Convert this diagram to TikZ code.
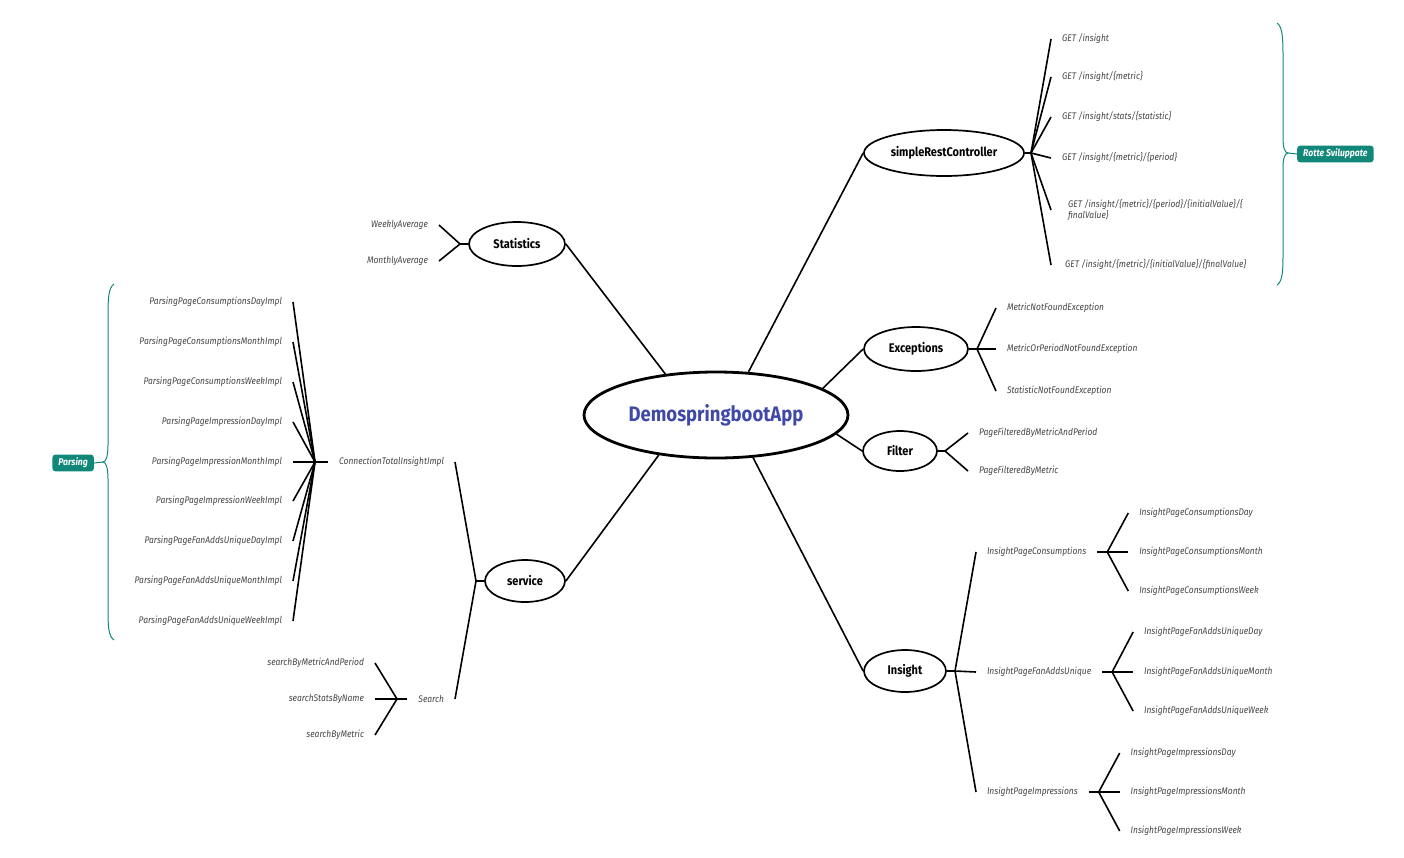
\documentclass[tikz,border=0pt]{standalone}
\usepackage{fontspec}
\setmainfont{Fira Sans}[FakeStretch=0.88]
\usetikzlibrary{shapes.geometric,calc}
\definecolor{tealc}{RGB}{17,135,122}
\definecolor{rootblue}{RGB}{64,72,168}
\definecolor{leafgray}{RGB}{70,70,70}
\tikzset{
  topic/.style={ellipse,draw=black,line width=1.7pt,inner sep=0pt,fill=white,
    font=\bfseries\fontsize{12.5}{14}\selectfont},
  rootnode/.style={ellipse,draw=black,line width=2.8pt,inner sep=0pt,fill=white,
    text=rootblue,font=\bfseries\fontsize{21}{24}\selectfont},
  leaf/.style={inner sep=0pt,outer xsep=11pt,text=leafgray,
    font=\itshape\fontsize{9.6}{11.5}\selectfont},
  leafR/.style={leaf,anchor=west},
  leafL/.style={leaf,anchor=east},
  conn/.style={line width=1.6pt,draw=black},
  tagbox/.style={fill=tealc,rounded corners=3pt,text=white,inner xsep=6pt,
    minimum height=16pt,font=\bfseries\itshape\fontsize{9.8}{11}\selectfont},
  bracel/.style={draw=tealc,line width=1pt}
}
\begin{document}
\begin{tikzpicture}[x=1pt,y=-1pt]
\useasboundingbox (0,0) rectangle (1404,857);

% root and main topics
\node[rootnode,minimum width=264pt,minimum height=86pt] (root) at (716,415) {DemospringbootApp};
\node[topic,minimum width=160pt,minimum height=46pt] (src) at (944,153) {simpleRestController};
\node[topic,minimum width=96pt,minimum height=44pt] (stat) at (517,244) {Statistics};
\node[topic,minimum width=104pt,minimum height=44pt] (exc) at (916,349) {Exceptions};
\node[topic,minimum width=74pt,minimum height=40pt] (filt) at (900,451) {Filter};
\node[topic,minimum width=80pt,minimum height=42pt] (serv) at (525,581) {service};
\node[topic,minimum width=82pt,minimum height=42pt] (ins) at (905,671) {Insight};

\draw[conn] (root.53) -- (src.west);
\draw[conn] (root.141) -- (stat.east);
\draw[conn] (root.14) -- (exc.west);
\draw[conn] (root.-9) -- (filt.west);
\draw[conn] (root.215) -- (serv.east);
\draw[conn] (root.-49) -- (ins.west);

% simpleRestController
\coordinate (srch) at (1031,153);
\draw[conn] (src.east) -- (srch);
\node[leafR] (g1) at (1051,39) {GET /insight};
\node[leafR] (g2) at (1051,77) {GET /insight/\{metric\}};
\node[leafR] (g3) at (1051,117) {GET /insight/stats/\{statistic\}};
\node[leafR] (g4) at (1051,158) {GET /insight/\{metric\}/\{period\}};
\node[leafR,align=left,outer xsep=17pt] (g5) at (1051,210) {GET /insight/\{metric\}/\{period\}/\{initialValue\}/\{\\finalValue\}};
\node[leafR,outer xsep=14pt] (g6) at (1051,265) {GET /insight/\{metric\}/\{initialValue\}/\{finalValue\}};
\foreach \g in {g1,g2,g3,g4,g5,g6} \draw[conn] (srch) -- (\g.west);

% Rotte Sviluppate brace and tag
\draw[bracel] (1277,23) .. controls (1283,27) and (1283,40) .. (1283,60) -- (1283,138)
  .. controls (1283,148) and (1285,153) .. (1288,153)
  .. controls (1285,153) and (1283,158) .. (1283,168) -- (1283,250)
  .. controls (1283,270) and (1283,281) .. (1277,285);
\coordinate (btR) at (1288,153);
\node[tagbox,anchor=west] (tagR) at (1297,154) {Rotte Sviluppate};
\draw[bracel] (btR) -- (tagR.west);

% Statistics
\coordinate (sth) at (460,244);
\draw[conn] (stat.west) -- (sth);
\node[leafL] (wa) at (439,225) {WeeklyAverage};
\node[leafL] (ma) at (439,261) {MonthlyAverage};
\draw[conn] (sth) -- (wa.east);
\draw[conn] (sth) -- (ma.east);

% Exceptions
\coordinate (exh) at (977,349);
\draw[conn] (exc.east) -- (exh);
\node[leafR] (e1) at (996,308) {MetricNotFoundException};
\node[leafR] (e2) at (996,349) {MetricOrPeriodNotFoundException};
\node[leafR] (e3) at (996,391) {StatisticNotFoundException};
\foreach \e in {e1,e2,e3} \draw[conn] (exh) -- (\e.west);

% Filter
\coordinate (fih) at (945,451);
\draw[conn] (filt.east) -- (fih);
\node[leafR] (f1) at (968,433) {PageFilteredByMetricAndPeriod};
\node[leafR] (f2) at (968,471) {PageFilteredByMetric};
\foreach \f in {f1,f2} \draw[conn] (fih) -- (\f.west);

% Insight
\coordinate (inh) at (955,671);
\draw[conn] (ins.east) -- (inh);
\node[leafR] (ipc) at (976,552) {InsightPageConsumptions};
\node[leafR] (ipf) at (976,672) {InsightPageFanAddsUnique};
\node[leafR] (ipi) at (976,792) {InsightPageImpressions};
\foreach \i in {ipc,ipf,ipi} \draw[conn] (inh) -- (\i.west);

\coordinate (ipch) at ($(ipc.east)+(10,0)$);
\draw[conn] (ipc.east) -- (ipch);
\node[leafR] (ipc1) at ($(ipch)+(21,-39)$) {InsightPageConsumptionsDay};
\node[leafR] (ipc2) at ($(ipch)+(21,0)$) {InsightPageConsumptionsMonth};
\node[leafR] (ipc3) at ($(ipch)+(21,39)$) {InsightPageConsumptionsWeek};
\foreach \i in {ipc1,ipc2,ipc3} \draw[conn] (ipch) -- (\i.west);

\coordinate (ipfh) at ($(ipf.east)+(10,0)$);
\draw[conn] (ipf.east) -- (ipfh);
\node[leafR] (ipf1) at ($(ipfh)+(21,-40)$) {InsightPageFanAddsUniqueDay};
\node[leafR] (ipf2) at ($(ipfh)+(21,0)$) {InsightPageFanAddsUniqueMonth};
\node[leafR] (ipf3) at ($(ipfh)+(21,39)$) {InsightPageFanAddsUniqueWeek};
\foreach \i in {ipf1,ipf2,ipf3} \draw[conn] (ipfh) -- (\i.west);

\coordinate (ipih) at ($(ipi.east)+(10,0)$);
\draw[conn] (ipi.east) -- (ipih);
\node[leafR] (ipi1) at ($(ipih)+(21,-39)$) {InsightPageImpressionsDay};
\node[leafR] (ipi2) at ($(ipih)+(21,0)$) {InsightPageImpressionsMonth};
\node[leafR] (ipi3) at ($(ipih)+(21,39)$) {InsightPageImpressionsWeek};
\foreach \i in {ipi1,ipi2,ipi3} \draw[conn] (ipih) -- (\i.west);

% service
\coordinate (seh) at (476,581);
\draw[conn] (serv.west) -- (seh);
\node[leafL] (cti) at (455,462) {ConnectionTotalInsightImpl};
\node[leafL] (srh) at (455,699) {Search};
\draw[conn] (seh) -- (cti.east);
\draw[conn] (seh) -- (srh.east);

% Parsing
\coordinate (pah) at (315,462);
\draw[conn] (cti.west) -- (pah);
\node[leafL] (p1) at (293,302) {ParsingPageConsumptionsDayImpl};
\node[leafL] (p2) at (293,342) {ParsingPageConsumptionsMonthImpl};
\node[leafL] (p3) at (293,382) {ParsingPageConsumptionsWeekImpl};
\node[leafL] (p4) at (293,422) {ParsingPageImpressionDayImpl};
\node[leafL] (p5) at (293,462) {ParsingPageImpressionMonthImpl};
\node[leafL] (p6) at (293,501) {ParsingPageImpressionWeekImpl};
\node[leafL] (p7) at (293,541) {ParsingPageFanAddsUniqueDayImpl};
\node[leafL] (p8) at (293,581) {ParsingPageFanAddsUniqueMonthImpl};
\node[leafL] (p9) at (293,621) {ParsingPageFanAddsUniqueWeekImpl};
\foreach \p in {p1,p2,p3,p4,p5,p6,p7,p8,p9} \draw[conn] (pah) -- (\p.east);

\draw[bracel] (114,284) .. controls (108,288) and (108,300) .. (108,320) -- (108,445)
  .. controls (108,456) and (106,462) .. (103,462)
  .. controls (106,462) and (108,468) .. (108,479) -- (108,605)
  .. controls (108,625) and (108,636) .. (114,640);
\coordinate (btL) at (103,462);
\node[tagbox,anchor=east] (tagL) at (94,463) {Parsing};
\draw[bracel] (btL) -- (tagL.east);

% Search
\coordinate (seah) at (397,699);
\draw[conn] (srh.west) -- (seah);
\node[leafL] (s1) at (375,663) {searchByMetricAndPeriod};
\node[leafL] (s2) at (375,699) {searchStatsByName};
\node[leafL] (s3) at (375,735) {searchByMetric};
\foreach \s in {s1,s2,s3} \draw[conn] (seah) -- (\s.east);
\end{tikzpicture}
\end{document}
